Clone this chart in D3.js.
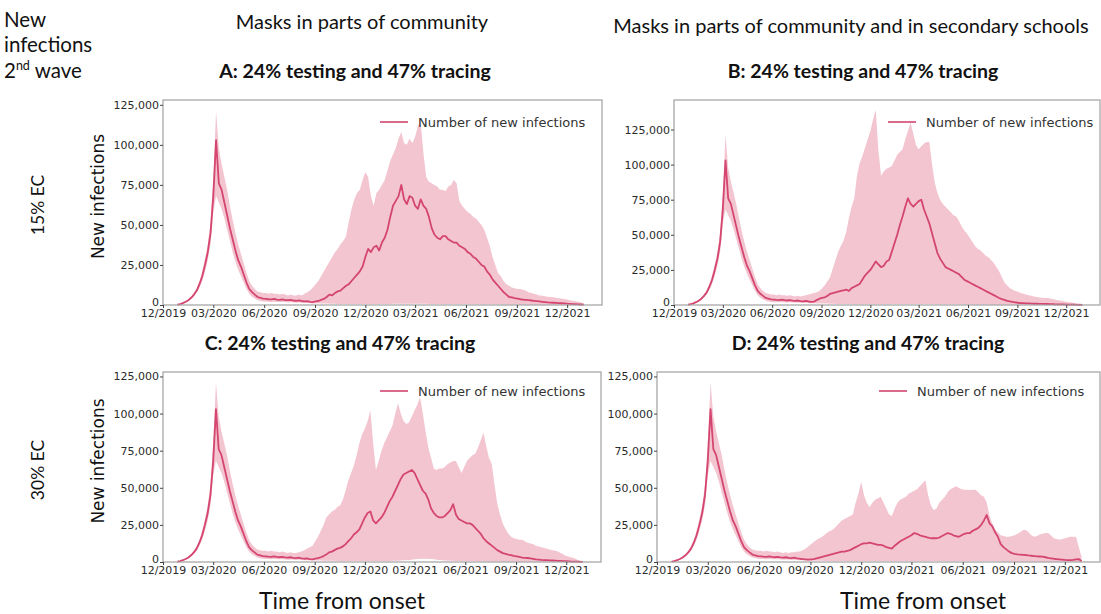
<!DOCTYPE html>
<html>
<head>
<meta charset="utf-8">
<script src="https://cdn.jsdelivr.net/npm/d3@7/dist/d3.min.js"></script>
<style>
  body { margin: 0; background: #fff; }
  svg { display: block; }
  .tick text { font-family: "DejaVu Sans", sans-serif; font-size: 11px; fill: #2a2a2a; }
  .tick line { stroke: #444; }
</style>
</head>
<body>
<div class="chart"></div>
<script>
// simulation output, thousands of new infections, one value every 5 days from 27 Dec 2019
const startDate = new Date(2019, 11, 27);
const stepDays = 5;
const xTickDates = ["2019-12-01", "2020-03-01", "2020-06-01", "2020-09-01", "2020-12-01",
  "2021-03-01", "2021-06-01", "2021-09-01", "2021-12-01"];
const yTicks = [0, 25000, 50000, 75000, 100000, 125000];

const meanA = [0.2,0.6,1.2,2,3,4.5,6.5,9,13,18, 25,33,45,68,103,76,72,64,56,48,
  41,34,28,24,19,14,10,8,6.5,5, 4.5,4,3.8,3.6,3.5,3.8,3.4,3.2,3.5,3.1,
  3,3.2,2.8,2.6,2.9,2.5,2.2,2.4,2,1.8, 2.2,2.5,3.2,3.8,5,6.5,6,7.5,8.5,9,
  10.5,12,13,15,17,19,21,24,30,35, 33,36,37,34,39,42,47,55,62,65,
  68,75,66,63,68,67,62,60,66,62, 60,55,48,44,42,41,43,43,41,40,
  39,39,37,36,35,33,32,30,29,27, 25,24,21,19,16,14,12,10,8,6.5,
  5,4.7,4.3,4,3.6,3.4,3.2,3,2.8,2.6, 2.4,2.2,2,1.8,1.6,1.5,1.4,1.3,1.2,1.1,
  1,0.8,0.7,0.6,0.5,0.4,0.3,0.2];
const upperA = [0.3,0.8,1.5,2.5,3.5,5.2,7.5,10.5,15,21, 29,38,52,80,121,98,88,80,72,62,
  53,45,38,32,26,20,15,12,10,8.5, 8,7.5,7.5,7,7.5,7,7,6.5,7,6.5,
  6,6.5,6,6,6.5,6,7,8,9,11, 13,15,18,21,24,27,30,33,35,38,
  40,43,52,60,66,70,72,78,83,80, 68,62,70,72,75,78,84,90,94,98,
  104,108,101,100,104,101,105,112,114,95, 80,77,76,75,74,72,72,71,74,75,
  78,76,65,62,60,58,57,55,54,52, 50,47,42,37,30,25,20,18,15,13,
  12,11,10.5,10,10,9.5,9,8,7.5,7, 6.5,6,5.8,5.5,5.2,5,4.8,4.5,4.2,4,
  3.7,3.4,3,2.7,2.4,2,1.5,1];
const lowerA = [0.1,0.4,0.9,1.6,2.5,3.8,5.5,7.8,11,15, 21,28,38,58,68,64,60,54,47,40,
  33,27,22,18,14,10,7,5.2,4,3, 2.5,2.2,2,2,1.9,2,1.8,1.8,1.9,1.7,
  1.6,1.7,1.5,1.4,1.5,1.3,1.2,1.2,1.1,1, 1,1,1,0.9,0.9,0.8,0.8,0.8,0.7,0.7,
  0.7,0.7,0.6,0.6,0.6,0.6,0.6,0.6,0.6,0.6, 0.6,0.6,0.6,0.6,0.6,0.6,0.7,0.7,0.8,0.8,
  0.8,0.8,0.8,0.8,0.8,0.8,0.8,0.8,0.8,0.8, 0.8,0.7,0.7,0.7,0.7,0.7,0.7,0.7,0.7,0.7,
  0.6,0.6,0.6,0.6,0.6,0.6,0.5,0.5,0.5,0.5, 0.5,0.5,0.5,0.4,0.4,0.4,0.4,0.4,0.3,0.3,
  0.3,0.3,0.3,0.3,0.2,0.2,0.2,0.2,0.2,0.2, 0.2,0.2,0.1,0.1,0.1,0.1,0.1,0.1,0.1,0.1,
  0.1,0.1,0.1,0.1,0,0,0,0];

const meanB = [0.2,0.6,1.2,2,3,4.5,6.5,9,13,18, 25,33,45,68,103,76,72,64,56,48,
  41,34,28,24,19,14,10,8,6.5,5, 4.5,4,3.8,3.6,3.5,3.8,3.4,3.2,3.5,3.1,
  3,3.2,2.8,2.6,2.9,2.5,2.2,2.4,3.5,4.5, 5,5.5,6.5,8,8.5,9,9.5,10,10.5,11,
  10,12,13,14,15,18,21,23,25,28, 31,29,27,28,31,32,38,44,50,57,
  63,70,76,72,70,72,74,75,68,63, 58,51,44,37,33,30,27,26,25,24,
  23,22,20,18,17,16,15,14,13,12, 11,10,9,8,7,6,5,4.2,3.6,3,
  2.6,2.2,1.9,1.6,1.4,1.3,1.2,1.1,1,0.9, 0.9,0.8,0.8,0.7,0.7,0.6,0.6,0.5,0.5,0.4,
  0.4,0.3,0.3,0.2,0.2,0.1,0.1,0.1];
const upperB = [0.3,0.8,1.5,2.5,3.5,5.2,7.5,10.5,15,21, 29,38,52,80,121,98,88,80,72,62,
  53,45,38,32,26,20,15,12,10,8.5, 8,7.5,7.5,7,7.5,7,7,6.5,7,6.5,
  6,6.5,6,6.5,7,7.5,8,8.5,9,10, 12,14,17,20,26,32,38,42,46,52,
  62,70,76,92,101,106,112,118,124,132, 139,110,92,95,97,98,99,103,107,109,
  111,118,124,130,122,114,111,113,115,116, 116,100,87,80,75,72,70,68,66,64,
  63,60,56,53,51,48,45,42,40,39, 37,35,34,32,30,27,24,20,16,14,
  12,11,10,9.5,8.5,8,7.5,7,6.5,6, 5.7,5.4,5.2,5,5,4.6,4.2,3.8,3.4,3,
  2.6,2.3,2,1.7,1.4,1.2,1,0.8];
const lowerB = [0.1,0.4,0.9,1.6,2.5,3.8,5.5,7.8,11,15, 21,28,38,58,68,64,60,54,47,40,
  33,27,22,18,14,10,7,5.2,4,3, 2.5,2.2,2,2,1.9,2,1.8,1.8,1.9,1.7,
  1.6,1.7,1.5,1.4,1.5,1.3,1.2,1.2,1.1,1, 1,1,1,0.9,0.9,0.8,0.8,0.8,0.7,0.7,
  0.7,0.7,0.6,0.6,0.6,0.6,0.6,0.6,0.6,0.6, 0.6,0.6,0.6,0.6,0.6,0.6,0.7,0.7,0.8,0.8,
  0.8,0.8,0.8,0.8,0.8,0.8,0.8,0.8,0.8,0.8, 0.7,0.7,0.7,0.6,0.6,0.6,0.6,0.5,0.5,0.5,
  0.5,0.5,0.5,0.4,0.4,0.4,0.4,0.4,0.3,0.3, 0.3,0.3,0.3,0.2,0.2,0.2,0.2,0.2,0.2,0.2,
  0.1,0.1,0.1,0.1,0.1,0.1,0.1,0.1,0.1,0.1, 0.1,0.1,0.1,0.1,0.1,0.1,0.1,0,0,0,
  0,0,0,0,0,0,0,0];

const meanC = [0.2,0.6,1.2,2,3,4.5,6.5,9,13,18, 25,33,45,68,103,76,72,64,56,48,
  41,34,28,24,19,14,10,8,6.5,5, 4.5,4,3.8,3.6,3.5,3.8,3.4,3.2,3.5,3.1,
  3,3.2,2.8,2.6,2.9,2.5,2.2,2.4,2,1.8, 2.2,2.6,3.2,4,5,6.5,7,8,9,9.5,
  10.5,12,14,16,18.5,20,22,26,30,33, 34,28,26,28,30,33,37,41,44,48,
  52,56,59,60,61,62,60,56,52,48, 46,42,36,33,31,30,30,31,33,35,
  39,32,29,28,27,26,26,25,23,21, 19,16,14,12.5,11,9.5,8,7,6,5.5,
  5,4.7,4.2,3.8,3.4,3,2.8,2.7,2.4,2.1, 1.8,1.6,1.4,1.3,1.2,1.1,1,0.9,0.8,0.7,
  0.6,0.5,0.4,0.3,0.3,0.2,0.1,0.1];
const upperC = [0.3,0.8,1.5,2.5,3.5,5.2,7.5,10.5,15,21, 29,38,52,80,121,98,88,80,72,62,
  53,45,38,32,26,20,15,12,10,8.5, 8,7.5,7.5,7,7.5,7,7,6.5,7,6.5,
  6,6.5,6,6,6.5,7,8,9,10,11, 14,17,21,25,30,32,34,35,37,38,
  42,48,55,60,65,72,80,86,90,95, 102,80,62,68,75,80,84,88,92,100,
  107,100,95,93,94,98,102,106,111,100, 88,77,70,63,62,63,63,64,66,67,
  68,68,64,60,64,68,70,72,73,77, 82,87,78,70,66,52,39,32,26,22,
  19,17,16,15.5,15,15,14,13,12.5,12, 11,10.5,10,9.5,9,8.5,8,7.5,7,6,
  5,4,3.5,3,2.5,1.5,1,0.5];
const lowerC = [0.1,0.4,0.9,1.6,2.5,3.8,5.5,7.8,11,15, 21,28,38,58,68,64,60,54,47,40,
  33,27,22,18,14,10,7,5.2,4,3, 2.5,2.2,2,2,1.9,2,1.8,1.8,1.9,1.7,
  1.6,1.7,1.5,1.4,1.5,1.3,1.2,1.2,1.1,1, 1,1,1,0.9,0.9,0.8,0.8,0.8,0.7,0.7,
  0.7,0.7,0.6,0.6,0.6,0.6,0.6,0.6,0.6,0.6, 0.6,0.6,0.6,0.6,0.6,0.6,0.7,0.7,0.8,0.8,
  0.9,1,1.1,1.2,1.4,1.6,1.8,2,2.1,2.2, 2.2,2.1,2,1.8,1.6,1.4,1.2,1,0.9,0.8,
  0.8,0.7,0.7,0.6,0.6,0.6,0.5,0.5,0.5,0.5, 0.5,0.5,0.5,0.4,0.4,0.4,0.4,0.4,0.3,0.3,
  0.3,0.3,0.3,0.3,0.2,0.2,0.2,0.2,0.2,0.2, 0.2,0.2,0.1,0.1,0.1,0.1,0.1,0.1,0.1,0.1,
  0.1,0.1,0.1,0.1,0,0,0,0];

const meanD = [0.2,0.6,1.2,2,3,4.5,6.5,9,13,18, 25,33,45,68,103,76,72,64,56,48,
  41,34,28,24,19,14,10,8,6.5,5, 4.5,4,3.8,3.6,3.5,3.8,3.4,3.2,3.5,3.1,
  3,3.2,2.8,2.6,2.9,2.5,2.2,2,1.8,1.6, 1.8,2,2.5,3,3.5,4,4.5,5,5.5,6,
  6.5,7,7,7.5,8,9,10,11,12,12.5, 12.6,13,12.5,12,11.5,11.5,11,10,9.5,9,
  11,12.5,14,15,16,17,18,19.5,19,18, 17.5,17,16.5,16,16,16,16.5,17.5,18.5,19.5,
  19,18,17.5,17,18,19,19.5,19.5,21,22, 23,25,28,31.7,26,24,20,17,12,10,
  8.5,7,6,5.5,5.2,5,4.8,4.7,4.4,4.2, 4,3.8,3.7,3.6,3.2,2.8,2.5,2.2,2,1.8,
  1.6,1.4,1.3,1.3,1.5,1.8,2,0.5];
const upperD = [0.3,0.8,1.5,2.5,3.5,5.2,7.5,10.5,15,21, 29,38,52,80,121,98,88,80,72,62,
  53,45,38,32,26,20,15,12,10,8.5, 8,7.5,7.5,7,7.5,7,7,6.5,7,6.5,
  6,6.5,6,6.5,6.5,7,7,8,9,10.5, 12,13.5,15,16,17,18.5,20,21,22,24,
  26,28,29,30,31,32,40,46,54,45, 40,37,40,42,43,44,40,36,32,31,
  36,40,42,43,44,46,47,48,49,51, 53,55,45,38,35,36,40,42,44,47,
  49,50,51,50,49,48.6,48.6,48.5,48.6,48.6, 47,45,44,40,31,26,22,20,18,17.5,
  17,17,17.5,18,19,20,21.5,21.6,20,18, 17,17.5,18.5,19,19.5,19.6,18,16,15.5,15,
  15.5,16,16.5,17,17,17,10,3.6];
const lowerD = [0.1,0.4,0.9,1.6,2.5,3.8,5.5,7.8,11,15, 21,28,38,58,68,64,60,54,47,40,
  33,27,22,18,14,10,7,5.2,4,3, 2.5,2.2,2,2,1.9,2,1.8,1.8,1.9,1.7,
  1.6,1.7,1.5,1.4,1.5,1.3,1.2,1.1,1,0.9, 0.9,0.9,0.8,0.8,0.8,0.7,0.7,0.7,0.7,0.7,
  0.7,0.7,0.6,0.6,0.6,0.6,0.6,0.6,0.6,0.6, 0.6,0.6,0.6,0.6,0.6,0.6,0.6,0.6,0.6,0.6,
  0.6,0.6,0.6,0.6,0.6,0.6,0.6,0.6,0.6,0.6, 0.6,0.6,0.6,0.6,0.6,0.6,0.6,0.6,0.6,0.6,
  0.6,0.6,0.6,0.6,0.6,0.6,0.6,0.6,0.6,0.6, 0.6,0.6,0.6,0.6,0.6,0.6,0.5,0.5,0.5,0.4,
  0.4,0.4,0.4,0.3,0.3,0.3,0.3,0.3,0.3,0.3, 0.3,0.3,0.3,0.2,0.2,0.2,0.2,0.2,0.2,0.2,
  0.2,0.2,0.2,0.2,0.2,0.2,0.1,0];

const lineColor = "#d4456f";
const bandColor = "#f3c5d1";

// frame boxes of the four panels, in page pixels
const panels = [
  { key: "A", title: "A: 24% testing and 47% tracing", mean: meanA, upper: upperA, lower: lowerA,
    left: 163, right: 602, top: 100, bottom: 305, yMax: 128000, legX: 380, legY: 122, titleX: 355 },
  { key: "B", title: "B: 24% testing and 47% tracing", mean: meanB, upper: upperB, lower: lowerB,
    left: 674, right: 1100, top: 100, bottom: 305, yMax: 146000, legX: 888, legY: 122, titleX: 863 },
  { key: "C", title: "C: 24% testing and 47% tracing", mean: meanC, upper: upperC, lower: lowerC,
    left: 163, right: 601, top: 372, bottom: 562, yMax: 128000, legX: 380, legY: 391, titleX: 340 },
  { key: "D", title: "D: 24% testing and 47% tracing", mean: meanD, upper: upperD, lower: lowerD,
    left: 657, right: 1100, top: 372, bottom: 562, yMax: 128000, legX: 879, legY: 391, titleX: 868 }
];

const W = 1101, H = 614;
const svg = d3.select(".chart").append("svg").attr("width", W).attr("height", H);

const titleFont = "Lato, 'Open Sans', sans-serif";
const axisFont = "'DejaVu Sans', sans-serif";

// top-left row header
const head = svg.append("text")
  .attr("font-family", titleFont).attr("font-size", 20.5).attr("fill", "#111");
head.append("tspan").attr("x", 4).attr("y", 27).text("New");
head.append("tspan").attr("x", 4).attr("y", 52).text("infections");
const wave = head.append("tspan").attr("x", 4).attr("y", 78);
wave.append("tspan").text("2");
wave.append("tspan").attr("font-size", 12.5).attr("dy", -8).text("nd");
wave.append("tspan").attr("dy", 8).text(" wave");

// column headers
svg.append("text").attr("x", 362).attr("y", 29).attr("text-anchor", "middle")
  .attr("font-family", titleFont).attr("font-size", 20).attr("fill", "#111")
  .text("Masks in parts of community");
svg.append("text").attr("x", 851).attr("y", 33).attr("text-anchor", "middle")
  .attr("font-family", titleFont).attr("font-size", 20).attr("fill", "#111")
  .text("Masks in parts of community and in secondary schools");

// row labels
[["15% EC", 205], ["30% EC", 470]].forEach(([t, cy]) => {
  svg.append("text")
    .attr("transform", `translate(44, ${cy}) rotate(-90)`)
    .attr("text-anchor", "middle")
    .attr("font-family", titleFont).attr("font-size", 17.5).attr("fill", "#111")
    .text(t);
});

// x axis titles
[342, 923].forEach((cx) => {
  svg.append("text").attr("x", cx).attr("y", 609).attr("text-anchor", "middle")
    .attr("font-family", titleFont).attr("font-size", 23).attr("fill", "#111")
    .text("Time from onset");
});

const tickDates = xTickDates.map((s) => d3.timeParse("%Y-%m-%d")(s));
const xDomain = [new Date(2019, 11, 1), new Date(2022, 1, 2)];

panels.forEach((p) => {
  const rows = p.mean.map((m, i) => ({
    date: d3.timeDay.offset(startDate, i * stepDays),
    mean: m * 1000,
    hi: p.upper[i] * 1000,
    lo: p.lower[i] * 1000
  }));

  const x = d3.scaleTime().domain(xDomain).range([p.left, p.right]);
  const y = d3.scaleLinear().domain([0, p.yMax]).range([p.bottom, p.top]);

  const g = svg.append("g").attr("class", "panel-" + p.key);

  // uncertainty band
  g.append("path")
    .datum(rows)
    .attr("fill", bandColor)
    .attr("d", d3.area().x((d) => x(d.date)).y0((d) => y(d.lo)).y1((d) => y(d.hi)));

  // mean line
  g.append("path")
    .datum(rows)
    .attr("fill", "none")
    .attr("stroke", lineColor)
    .attr("stroke-width", 1.8)
    .attr("stroke-linejoin", "round")
    .attr("d", d3.line().x((d) => x(d.date)).y((d) => y(d.mean)));

  // frame
  g.append("rect")
    .attr("x", p.left).attr("y", p.top)
    .attr("width", p.right - p.left).attr("height", p.bottom - p.top)
    .attr("fill", "none").attr("stroke", "#a0a0a0").attr("stroke-width", 1.2);

  // axes
  const xAxis = g.append("g")
    .attr("transform", `translate(0, ${p.bottom})`)
    .call(d3.axisBottom(x).tickValues(tickDates).tickFormat(d3.timeFormat("%m/%Y"))
      .tickSize(3).tickPadding(1));
  xAxis.select(".domain").remove();

  const yAxis = g.append("g")
    .attr("transform", `translate(${p.left}, 0)`)
    .call(d3.axisLeft(y).tickValues(yTicks).tickFormat(d3.format(",")).tickSize(3).tickPadding(1));
  yAxis.select(".domain").remove();
  // the zero label sits just above the date labels, as in the original
  yAxis.selectAll(".tick text").filter((d) => d === 0).attr("dy", "0.05em");

  // panel title
  svg.append("text")
    .attr("x", p.titleX)
    .attr("y", p.top - 22)
    .attr("text-anchor", "middle")
    .attr("font-family", titleFont).attr("font-weight", "bold").attr("font-size", 19.5)
    .attr("fill", "#111")
    .text(p.title);

  if (p.left < 300) {
    svg.append("text")
      .attr("transform", `translate(104, ${(p.top + p.bottom) / 2 - 6}) rotate(-90)`)
      .attr("text-anchor", "middle")
      .attr("font-family", axisFont).attr("font-size", 17).attr("fill", "#111")
      .text("New infections");
  }

  // legend
  g.append("line")
    .attr("x1", p.legX).attr("x2", p.legX + 28)
    .attr("y1", p.legY).attr("y2", p.legY)
    .attr("stroke", lineColor).attr("stroke-width", 1.6);
  g.append("text")
    .attr("x", p.legX + 38).attr("y", p.legY)
    .attr("dy", "0.35em")
    .attr("font-family", axisFont).attr("font-size", 13).attr("fill", "#333")
    .text("Number of new infections");
});
</script>
</body>
</html>
